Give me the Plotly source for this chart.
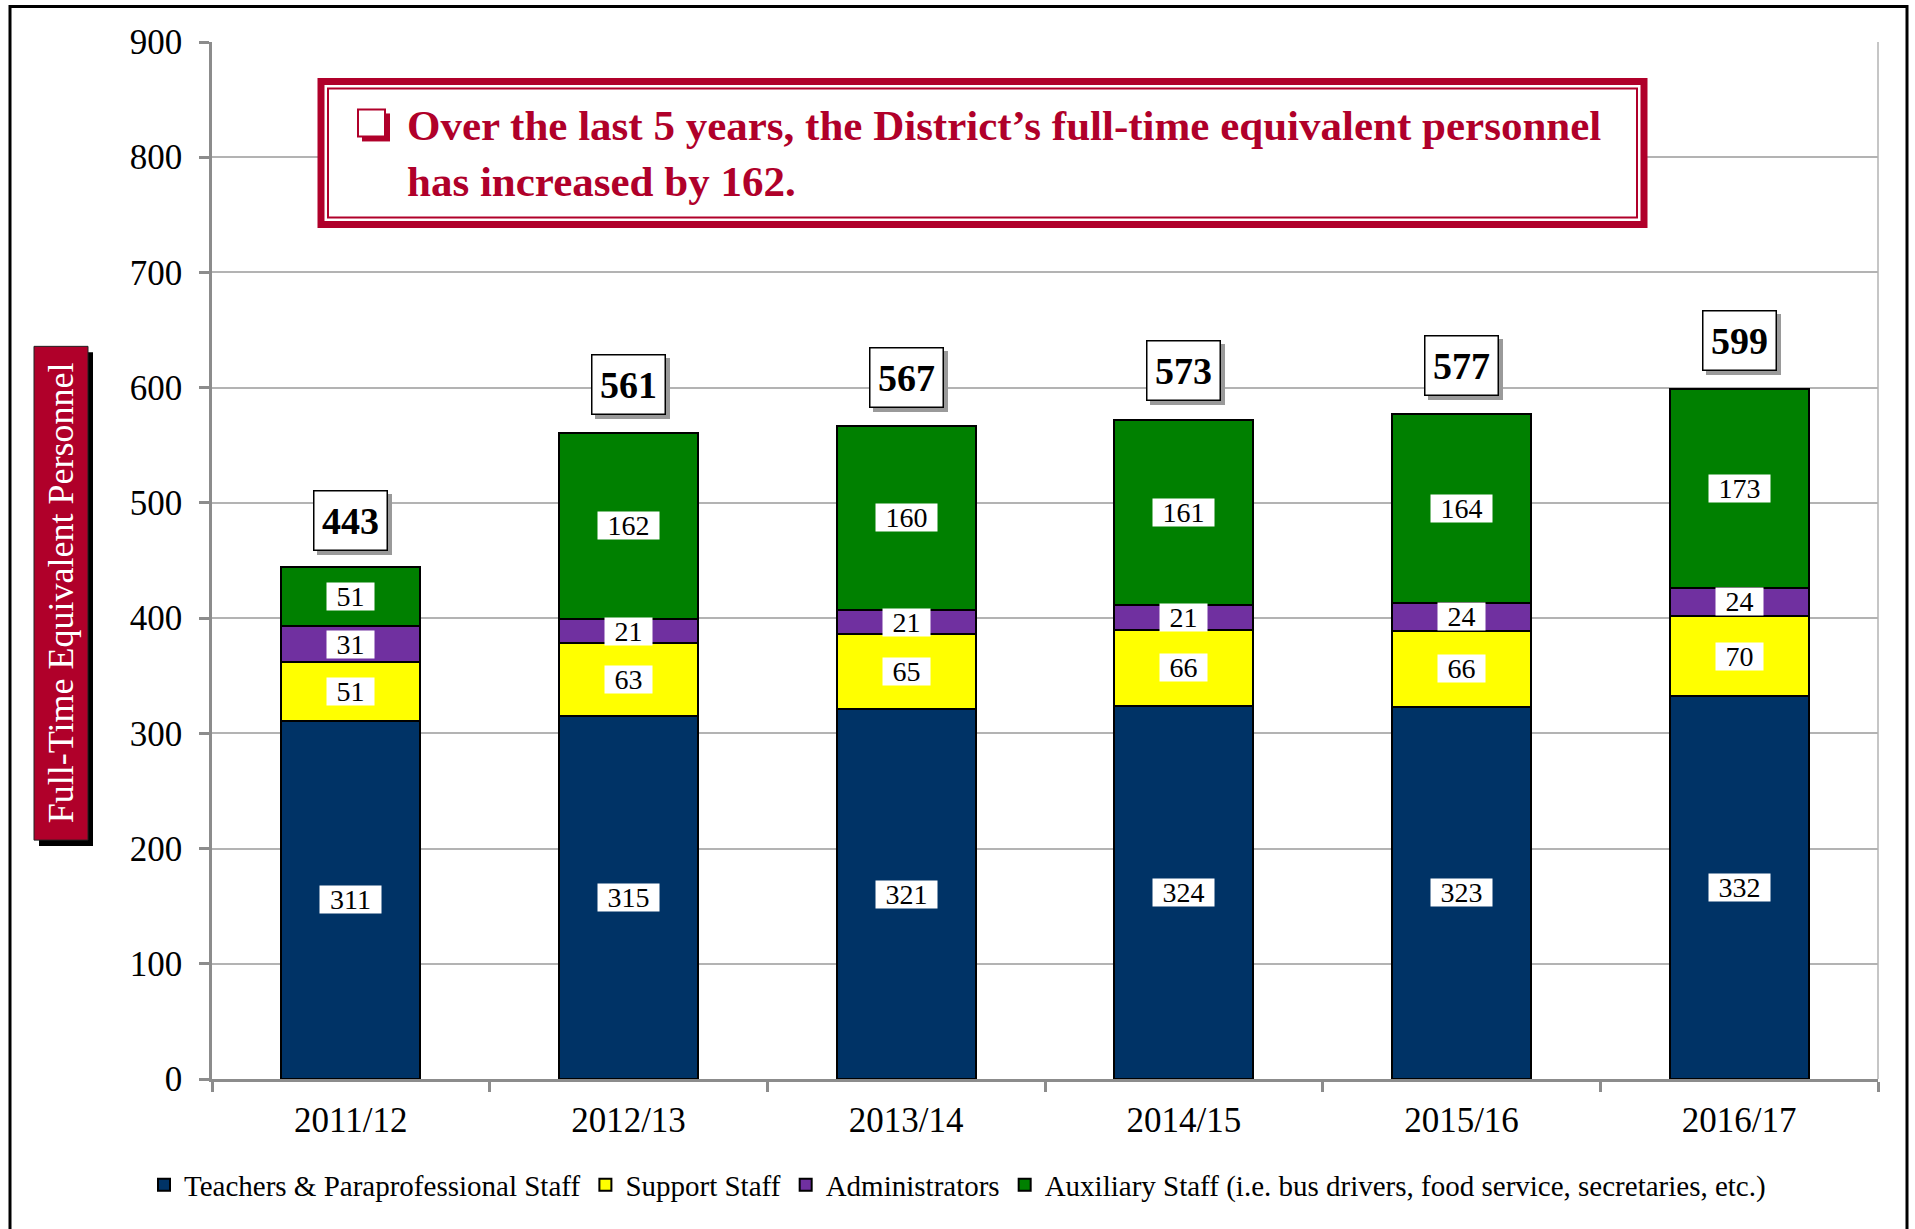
import plotly.graph_objects as go

categories = ["2011/12", "2012/13", "2013/14", "2014/15", "2015/16", "2016/17"]
teachers = [311, 315, 321, 324, 323, 332]
support = [51, 63, 65, 66, 66, 70]
admins = [31, 21, 21, 21, 24, 24]
auxiliary = [51, 162, 160, 161, 164, 173]
totals = [443, 561, 567, 573, 577, 599]
y_ticks = [0, 100, 200, 300, 400, 500, 600, 700, 800, 900]

series_names = [
    "Teachers & Paraprofessional Staff",
    "Support Staff",
    "Administrators",
    "Auxiliary Staff (i.e. bus drivers, food service, secretaries, etc.)",
]
series_values = [teachers, support, admins, auxiliary]
series_colors = ["#003366", "#FFFF00", "#7030A0", "#008000"]

W, H = 1915, 1229
ML, MR, MT, MB = 212, 37, 41.5, 150
PW = W - ML - MR
PH = H - MT - MB
RED = "#B0002A"
FONT = "Liberation Serif"


def pxx(p):
    return (p - ML) / PW


def pxy(p):
    return (H - MB - p) / PH


fig = go.Figure()
for name, vals, col in zip(series_names, series_values, series_colors):
    fig.add_trace(go.Bar(
        x=categories, y=vals, name=name,
        marker=dict(color=col, line=dict(color="black", width=2)),
        hoverinfo="skip",
    ))

annotations = []
# segment labels
base = [0] * len(categories)
for vals in series_values:
    for j, v in enumerate(vals):
        annotations.append(dict(
            x=categories[j], y=base[j] + v / 2, xref="x", yref="y",
            text=str(v), showarrow=False, bgcolor="white",
            font=dict(family=FONT, size=28, color="black"),
            width=19 + 14 * len(str(v)), height=27, borderpad=0,
        ))
        base[j] += v

# total labels with shadow
for j, t in enumerate(totals):
    annotations.append(dict(
        x=categories[j], y=t, xref="x", yref="y", yanchor="bottom",
        text=" ", showarrow=False, bgcolor="#9A9A9A", bordercolor="#9A9A9A",
        borderwidth=1.5, borderpad=0, width=72, height=58,
        xshift=4, yshift=14,
        font=dict(family=FONT, size=10, color="#9A9A9A"),
    ))
    annotations.append(dict(
        x=categories[j], y=t, xref="x", yref="y", yanchor="bottom",
        text="<b>%d</b>" % t, showarrow=False, bgcolor="white", bordercolor="black",
        borderwidth=1.5, borderpad=0, width=72, height=58,
        yshift=18,
        font=dict(family=FONT, size=38, color="black"),
    ))

# callout box text
annotations.append(dict(
    x=pxx(405), y=pxy(153), xref="paper", yref="paper",
    text="<b>Over the last 5 years, the District’s full-time equivalent personnel<br>has increased by 162.</b>",
    showarrow=False, xanchor="left", yanchor="middle", align="left",
    font=dict(family=FONT, size=43, color=RED),
))
# y axis title
annotations.append(dict(
    x=pxx(61), y=pxy(593), xref="paper", yref="paper",
    text="Full-Time Equivalent Personnel", textangle=-90,
    showarrow=False, xanchor="center", yanchor="middle",
    font=dict(family=FONT, size=36, color="white"),
))

shapes = [
    # outer frame
    dict(type="rect", xref="paper", yref="paper",
         x0=pxx(10), x1=pxx(1907), y0=pxy(1245), y1=pxy(6),
         line=dict(color="black", width=3), fillcolor="rgba(0,0,0,0)", layer="below"),
    # right plot border
    dict(type="line", xref="paper", yref="paper", x0=1, x1=1, y0=0, y1=1,
         line=dict(color="#B3B3B3", width=1.5), layer="below"),
    # y-axis title box shadow and box
    dict(type="rect", xref="paper", yref="paper",
         x0=pxx(39), x1=pxx(93), y0=pxy(846), y1=pxy(352),
         line=dict(width=0), fillcolor="black"),
    dict(type="rect", xref="paper", yref="paper",
         x0=pxx(34), x1=pxx(88), y0=pxy(840), y1=pxy(346),
         line=dict(color="#222222", width=1), fillcolor=RED),
    # callout box: outer thick, inner thin
    dict(type="rect", xref="paper", yref="paper",
         x0=pxx(321), x1=pxx(1644), y0=pxy(224), y1=pxy(81),
         line=dict(color=RED, width=7), fillcolor="white"),
    dict(type="rect", xref="paper", yref="paper",
         x0=pxx(328), x1=pxx(1637), y0=pxy(217), y1=pxy(88),
         line=dict(color=RED, width=2), fillcolor="rgba(0,0,0,0)"),
    # checkbox bullet: shadow + square
    dict(type="rect", xref="paper", yref="paper",
         x0=pxx(362), x1=pxx(390), y0=pxy(141), y1=pxy(113),
         line=dict(width=0), fillcolor=RED),
    dict(type="rect", xref="paper", yref="paper",
         x0=pxx(358), x1=pxx(385), y0=pxy(136), y1=pxy(109),
         line=dict(color=RED, width=2), fillcolor="white"),
]

fig.update_layout(
    width=W, height=H,
    margin=dict(l=ML, r=MR, t=MT, b=MB, autoexpand=False),
    barmode="stack", bargap=0.5,
    plot_bgcolor="white", paper_bgcolor="white",
    font=dict(family=FONT, color="black"),
    showlegend=True,
    legend=dict(
        orientation="h", xref="container", yref="container",
        x=0.5, xanchor="center", y=1 - 1185 / H, yanchor="middle",
        font=dict(family=FONT, size=29, color="black"),
        itemwidth=30, traceorder="normal", tracegroupgap=0,
    ),
    annotations=annotations,
    shapes=shapes,
)
fig.update_yaxes(
    range=[0, 900], tickvals=y_ticks, ticktext=[str(v) for v in y_ticks],
    showgrid=True, gridcolor="#B3B3B3", gridwidth=1.5,
    showline=True, linecolor="#8C8C8C", linewidth=2.5,
    ticks="outside", ticklen=10, tickcolor="#8C8C8C", tickwidth=2.5,
    zeroline=False, tickfont=dict(family=FONT, size=35, color="black"),
    ticklabelstandoff=10,
)
fig.update_xaxes(
    showline=True, linecolor="#8C8C8C", linewidth=3,
    ticks="outside", ticklen=10, tickcolor="#8C8C8C", tickwidth=2.5,
    tickson="boundaries", showgrid=False,
    tickfont=dict(family=FONT, size=35, color="black"),
    ticklabelstandoff=8,
)

fig.write_html("out.html", config={"displayModeBar": False},
               post_script="document.body.style.margin='0px';")
